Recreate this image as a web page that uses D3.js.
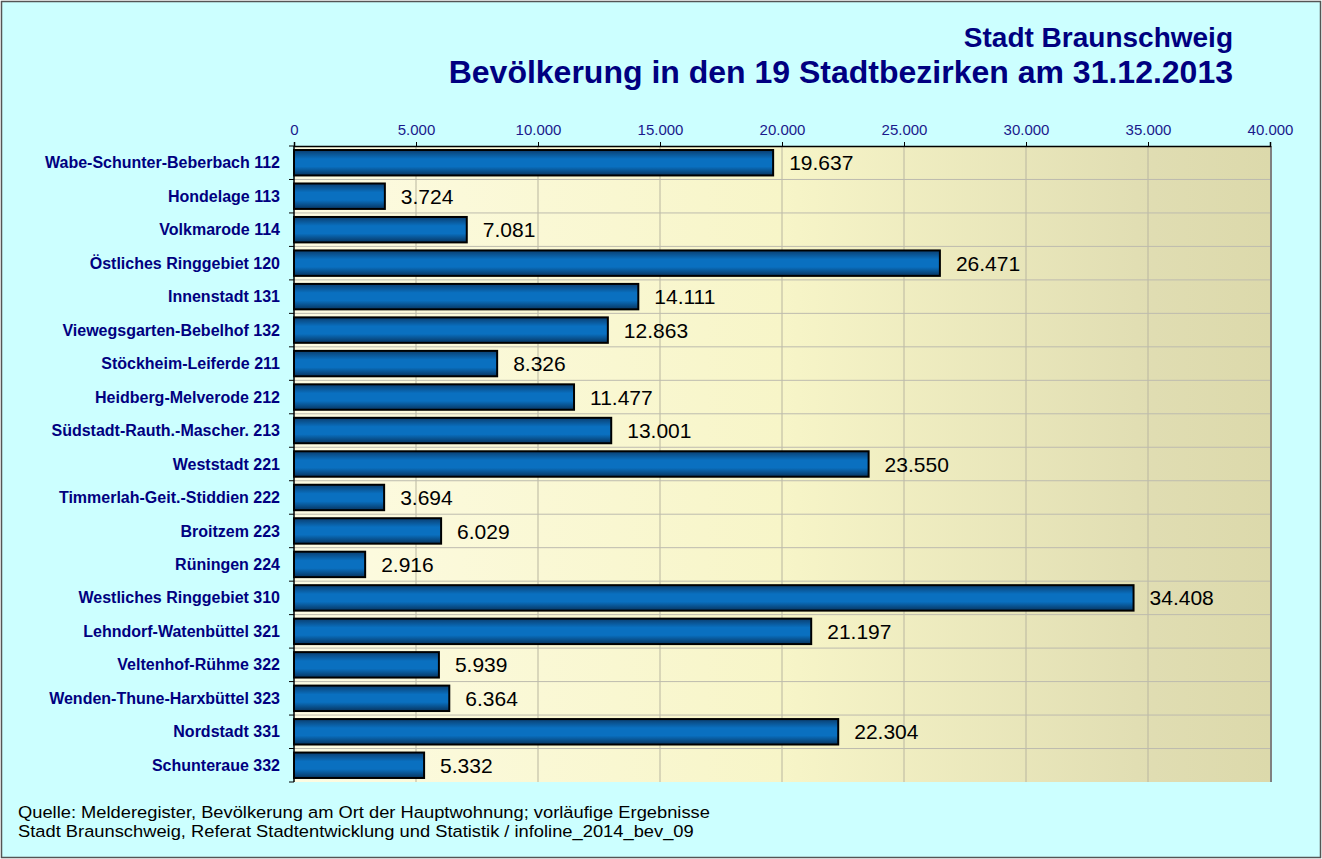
<!DOCTYPE html>
<html>
<head>
<meta charset="utf-8">
<script src="https://cdn.jsdelivr.net/npm/d3@7"></script>
<style>
  body { margin: 0; background: #fff; }
  text { font-family: Arial, "Liberation Sans", sans-serif; }
</style>
</head>
<body>
<div id="chart"></div>
<script>
// districts top to bottom, values as printed
const districts = [
  "Wabe-Schunter-Beberbach 112", "Hondelage 113", "Volkmarode 114", "Östliches Ringgebiet 120",
  "Innenstadt 131", "Viewegsgarten-Bebelhof 132", "Stöckheim-Leiferde 211", "Heidberg-Melverode 212",
  "Südstadt-Rauth.-Mascher. 213", "Weststadt 221", "Timmerlah-Geit.-Stiddien 222", "Broitzem 223",
  "Rüningen 224", "Westliches Ringgebiet 310", "Lehndorf-Watenbüttel 321", "Veltenhof-Rühme 322",
  "Wenden-Thune-Harxbüttel 323", "Nordstadt 331", "Schunteraue 332"
];
const population = [19637, 3724, 7081, 26471, 14111, 12863, 8326, 11477, 13001, 23550,
  3694, 6029, 2916, 34408, 21197, 5939, 6364, 22304, 5332];
const xTicks = [0, 5000, 10000, 15000, 20000, 25000, 30000, 35000, 40000];
const titleLines = ["Stadt Braunschweig", "Bevölkerung in den 19 Stadtbezirken am 31.12.2013"];
const footLines = [
  "Quelle: Melderegister, Bevölkerung am Ort der Hauptwohnung; vorläufige Ergebnisse",
  "Stadt Braunschweig, Referat Stadtentwicklung und Statistik / infoline_2014_bev_09"
];

const W = 1322, H = 859;
const m = { top: 146, left: 294, right: 52, bottom: 77 };
const iw = W - m.left - m.right, ih = H - m.top - m.bottom;

const fmt = d3.formatLocale({ decimal: ",", thousands: ".", grouping: [3] }).format(",d");

const svg = d3.select("#chart").append("svg").attr("width", W).attr("height", H);

// outer frame
svg.append("rect").attr("x", 1.5).attr("y", 1.5).attr("width", W - 3).attr("height", H - 3)
  .attr("fill", "#ccffff").attr("stroke", "#555").attr("stroke-width", 1.5);

const defs = svg.append("defs");
const bg = defs.append("linearGradient").attr("id", "plotbg");
bg.append("stop").attr("offset", "0%").attr("stop-color", "#fdfbe2");
bg.append("stop").attr("offset", "50%").attr("stop-color", "#f7f5c8");
bg.append("stop").attr("offset", "88%").attr("stop-color", "#e0ddb2");
bg.append("stop").attr("offset", "100%").attr("stop-color", "#dcd9ab");
const barG = defs.append("linearGradient").attr("id", "bar").attr("x1", 0).attr("x2", 0).attr("y1", 0).attr("y2", 1);
barG.append("stop").attr("offset", "0%").attr("stop-color", "#0a3e70");
barG.append("stop").attr("offset", "35%").attr("stop-color", "#0a70c0");
barG.append("stop").attr("offset", "65%").attr("stop-color", "#0a70c0");
barG.append("stop").attr("offset", "100%").attr("stop-color", "#07345f");

const x = d3.scaleLinear().domain([0, 40000]).range([0, iw]);
const y = d3.scaleBand().domain(districts).range([0, ih]).paddingInner(0.24).paddingOuter(0.12);
const rowStep = ih / districts.length;

const g = svg.append("g").attr("transform", `translate(${m.left},${m.top})`);

g.append("rect").attr("width", iw).attr("height", ih).attr("fill", "url(#plotbg)");

// grid
g.append("g").selectAll("line").data(xTicks.slice(1, -1)).join("line")
  .attr("x1", d => x(d)).attr("x2", d => x(d)).attr("y1", 0).attr("y2", ih)
  .attr("stroke", "#b9b6a0").attr("stroke-width", 1);
g.append("g").selectAll("line").data(d3.range(1, districts.length)).join("line")
  .attr("x1", 0).attr("x2", iw).attr("y1", d => d * rowStep).attr("y2", d => d * rowStep)
  .attr("stroke", "#bdbbae").attr("stroke-width", 1);

// right shadow edge
g.append("line").attr("x1", iw + 1).attr("x2", iw + 1).attr("y1", 0).attr("y2", ih)
  .attr("stroke", "#808080").attr("stroke-width", 2);

// top axis
const ax = g.append("g").call(d3.axisTop(x).tickValues(xTicks).tickFormat(d => fmt(d)).tickSize(4).tickPadding(7));
ax.select(".domain").attr("stroke", "#000").attr("stroke-width", 1.5);
ax.selectAll("text").attr("fill", "#1a1a8c").style("font-size", "15px");

// left axis ticks at row boundaries
g.append("line").attr("x1", 0).attr("x2", 0).attr("y1", 0).attr("y2", ih).attr("stroke", "#000").attr("stroke-width", 1.5);
g.append("g").selectAll("line").data(d3.range(0, districts.length + 1)).join("line")
  .attr("x1", -5).attr("x2", 0).attr("y1", d => d * rowStep).attr("y2", d => d * rowStep)
  .attr("stroke", "#000");

g.append("g").selectAll("text").data(districts).join("text")
  .attr("x", -14).attr("y", d => y(d) + y.bandwidth() / 2).attr("dy", "0.35em")
  .attr("text-anchor", "end").attr("fill", "#000080")
  .style("font-size", "16px").style("font-weight", "bold").text(d => d);

// bars
g.append("g").selectAll("rect").data(population).join("rect")
  .attr("x", 0).attr("y", (d, i) => y(districts[i]))
  .attr("width", d => x(d)).attr("height", y.bandwidth())
  .attr("fill", "url(#bar)").attr("stroke", "#000").attr("stroke-width", 2);

g.append("g").selectAll("text").data(population).join("text")
  .attr("x", d => x(d) + 16).attr("y", (d, i) => y(districts[i]) + y.bandwidth() / 2).attr("dy", "0.36em")
  .attr("fill", "#000").style("font-size", "21px").text(d => fmt(d));

// titles
const titleSize = [28, 32], titleY = [47, 83];
svg.append("g").selectAll("text").data(titleLines).join("text")
  .attr("x", 1233).attr("y", (d, i) => titleY[i]).attr("text-anchor", "end")
  .attr("fill", "#000080").style("font-weight", "bold").style("font-size", (d, i) => titleSize[i] + "px").text(d => d);

// footer text in the original is a bit wider than tall, so stretch it a little
svg.append("g").attr("transform", "translate(18,0) scale(1.11,1)")
  .selectAll("text").data(footLines).join("text")
  .attr("x", 0).attr("y", (d, i) => 818 + i * 19)
  .attr("fill", "#000").style("font-size", "16.5px").text(d => d);
</script>
</body>
</html>
